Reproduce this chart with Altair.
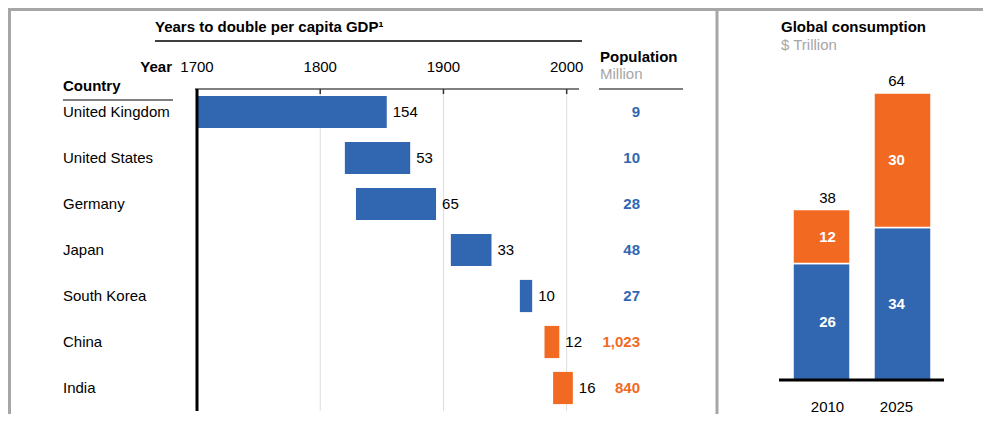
import altair as alt
import pandas as pd

# ---------------- data ----------------
countries = ["United Kingdom", "United States", "Germany", "Japan", "South Korea", "China", "India"]
start_year = [1700, 1820, 1829, 1906, 1962, 1982, 1989]
years_to_double = [154, 53, 65, 33, 10, 12, 16]
population = ["9", "10", "28", "48", "27", "1,023", "840"]
group = ["Developed", "Developed", "Developed", "Developed", "Developed", "Emerging", "Emerging"]

axis_years = [1700, 1800, 1900, 2000]
grid_years = [1800, 1900, 2000]

cons_years = ["2010", "2025"]
cons_developed = [26, 34]
cons_emerging = [12, 30]

BLUE = "#3167B1"
ORANGE = "#F26922"
GRAY = "#a6a6a6"
FONT = "Liberation Sans"

left = pd.DataFrame({
    "country": countries,
    "start": start_year,
    "years": years_to_double,
    "pop": population,
    "group": group,
})
left["end"] = left["start"] + left["years"]

rows = []
for yr, d, e in zip(cons_years, cons_developed, cons_emerging):
    rows.append({"year": yr, "segment": "Developed", "value": d, "y0": 0, "y1": d})
    rows.append({"year": yr, "segment": "Emerging", "value": e, "y0": d, "y1": d + e})
right = pd.DataFrame(rows)
right["mid"] = (right["y0"] + right["y1"]) / 2
totals = pd.DataFrame({"year": cons_years,
                       "total": [d + e for d, e in zip(cons_developed, cons_emerging)]})

one = pd.DataFrame({"k": [0]})

# ---------------- scales ----------------
xs = alt.Scale(domain=[1700, 2010], range=[189, 571], nice=False, zero=False)
ys = alt.Scale(domain=countries, range=[81, 403], paddingInner=0.3, paddingOuter=0.15)
cs = alt.Scale(domain=["Developed", "Emerging"], range=[BLUE, ORANGE])
xr = alt.Scale(domain=cons_years, range=[785, 923], paddingInner=0.296, paddingOuter=0)
yr = alt.Scale(domain=[0, 64], range=[372, 85], nice=False, zero=True)


def label(text, x, y, align="left", bold=False, color="black", size=15):
    return alt.Chart(one).mark_text(
        text=text, align=align, baseline="middle", fontSize=size,
        fontWeight="bold" if bold else "normal", color=color, font=FONT
    ).encode(x=alt.value(x), y=alt.value(y))


def hrule(x1, x2, y, color, width):
    return alt.Chart(one).mark_rule(color=color, strokeWidth=width).encode(
        x=alt.value(x1), x2=alt.value(x2), y=alt.value(y))


def vrule(x, y1, y2, color, width):
    return alt.Chart(one).mark_rule(color=color, strokeWidth=width).encode(
        x=alt.value(x), y=alt.value(y1), y2=alt.value(y2))


# ---------------- left panel ----------------
grid = alt.Chart(pd.DataFrame({"yr": grid_years})).mark_rule(
    color="#dddddd", strokeWidth=1).encode(
    x=alt.X("yr:Q", scale=xs, axis=None), y=alt.value(81), y2=alt.value(403))

ticks = alt.Chart(pd.DataFrame({"yr": grid_years})).mark_rule(
    color="#333333", strokeWidth=1.5).encode(
    x=alt.X("yr:Q", scale=xs, axis=None), y=alt.value(81), y2=alt.value(86))

tick_labels = alt.Chart(pd.DataFrame({"yr": axis_years})).mark_text(
    fontSize=15, font=FONT, baseline="middle", align="center").encode(
    x=alt.X("yr:Q", scale=xs, axis=None), y=alt.value(59), text="yr:N")

bars = alt.Chart(left).mark_bar().encode(
    x=alt.X("start:Q", scale=xs, axis=None), x2="end:Q",
    y=alt.Y("country:N", scale=ys, axis=None, sort=countries),
    color=alt.Color("group:N", scale=cs, legend=None))

dur = alt.Chart(left).mark_text(
    align="left", dx=6, fontSize=15, font=FONT, baseline="middle").encode(
    x=alt.X("end:Q", scale=xs, axis=None),
    y=alt.Y("country:N", scale=ys, axis=None, sort=countries),
    text="years:Q")

clabels = alt.Chart(left).mark_text(
    align="left", fontSize=15, font=FONT, baseline="middle").encode(
    x=alt.value(55),
    y=alt.Y("country:N", scale=ys, axis=None, sort=countries),
    text="country:N")

pops = alt.Chart(left).mark_text(
    align="right", fontSize=15, font=FONT, fontWeight="bold", baseline="middle").encode(
    x=alt.value(632),
    y=alt.Y("country:N", scale=ys, axis=None, sort=countries),
    text="pop:N",
    color=alt.Color("group:N", scale=cs, legend=None))

# ---------------- right panel ----------------
rbars = alt.Chart(right).mark_bar(stroke="white", strokeWidth=1.5).encode(
    x=alt.X("year:N", scale=xr, axis=None),
    y=alt.Y("y0:Q", scale=yr, axis=None), y2="y1:Q",
    color=alt.Color("segment:N", scale=cs, legend=None))

rseg = alt.Chart(right).mark_text(
    color="white", fontWeight="bold", fontSize=15, font=FONT, baseline="middle").encode(
    x=alt.X("year:N", scale=xr, axis=None),
    y=alt.Y("mid:Q", scale=yr, axis=None),
    text="value:Q")

rtot = alt.Chart(totals).mark_text(
    fontSize=15, font=FONT, baseline="middle", dy=-12).encode(
    x=alt.X("year:N", scale=xr, axis=None),
    y=alt.Y("total:Q", scale=yr, axis=None),
    text="total:Q")

rxl = alt.Chart(totals).mark_text(
    fontSize=15, font=FONT, baseline="middle").encode(
    x=alt.X("year:N", scale=xr, axis=None),
    y=alt.value(399),
    text="year:N")

layers = [
    # frame
    hrule(0, 975, 1.5, GRAY, 3),
    vrule(1.5, 0, 406, GRAY, 3),
    vrule(709, 0, 406, GRAY, 3),
    # left headings
    label("Years to double per capita GDP\u00b9", 147, 19, bold=True),
    hrule(147, 574, 33, "black", 1.5),
    label("Year", 164, 59, align="right", bold=True),
    label("Country", 55, 78, bold=True),
    hrule(55, 165, 92, "#808080", 2),
    label("Population", 592, 49, bold=True),
    label("Million", 592, 66, color=GRAY),
    hrule(591, 675, 81, "#808080", 2),
    grid,
    hrule(187, 571, 81, "#808080", 2),
    ticks,
    tick_labels,
    bars,
    vrule(189, 81, 403, "black", 3),
    dur,
    clabels,
    pops,
    # right panel
    label("Global consumption", 773, 19, bold=True),
    label("$ Trillion", 773, 37, color=GRAY),
    rbars,
    hrule(771, 936, 372, "black", 3),
    rseg,
    rtot,
    rxl,
]

chart = alt.layer(*layers).resolve_scale(
    x="independent", y="independent", color="independent"
).properties(
    width=975, height=406,
    autosize=alt.AutoSizeParams(type="none"),
    padding=0,
).configure_view(stroke=None)

chart.save("out.html", embed_options={"renderer": "svg", "actions": False})
